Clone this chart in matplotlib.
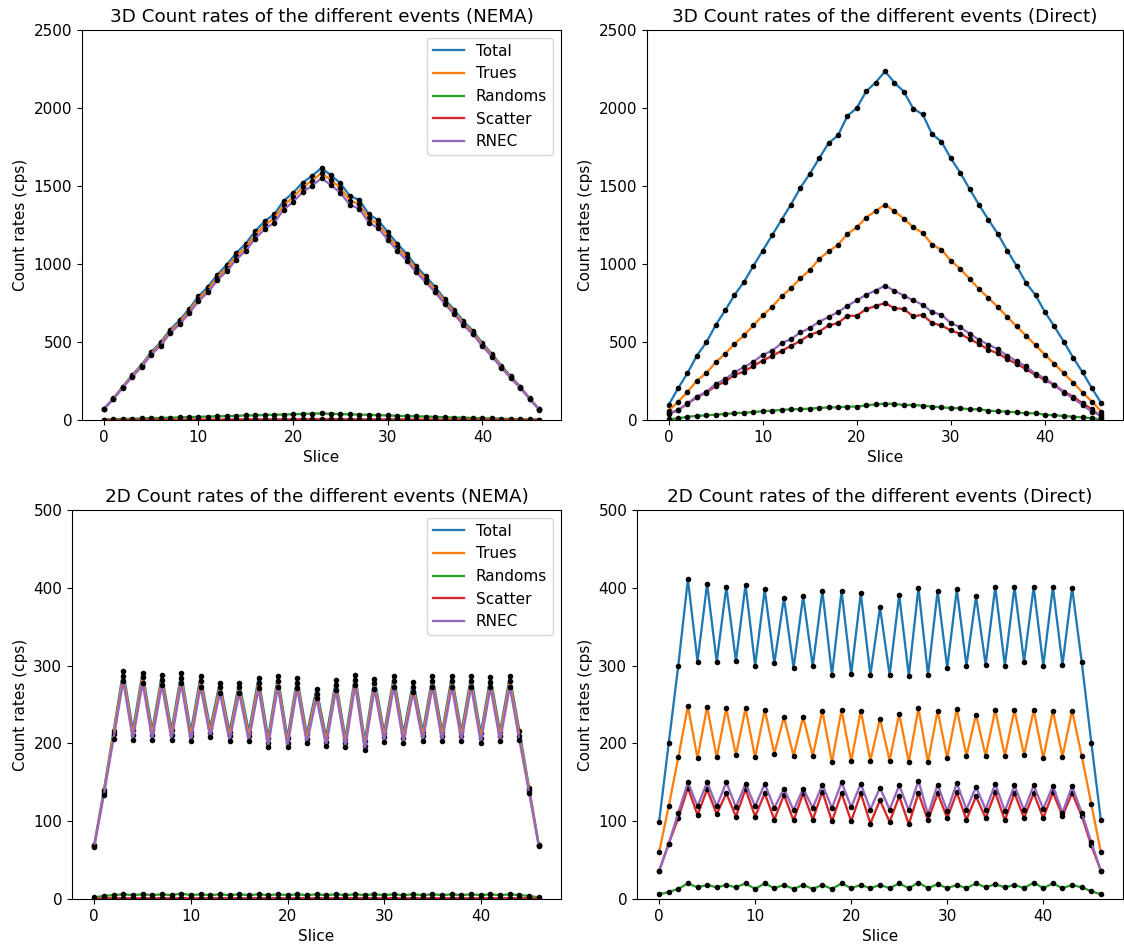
#!/usr/bin/env python3
"""
Plot count rates per slice for the different event types (3D/2D, NEMA vs Direct).
"""

import numpy as np
import matplotlib
matplotlib.use("Agg")
import matplotlib.pyplot as plt

slices = np.arange(47)
LABELS = ["Total", "Trues", "Randoms", "Scatter", "RNEC"]

# 3D NEMA
total_3d_nema = [71, 139, 214, 289, 354, 435, 497, 579, 639, 711, 793, 853, 932, 996, 1071, 1131,
                 1211, 1275, 1318, 1404, 1457, 1521, 1565, 1615, 1569, 1517, 1436, 1410, 1318, 1281,
                 1204, 1131, 1065, 986, 921, 853, 776, 707, 632, 572, 493, 424, 349, 279, 214, 139, 69]
trues_3d_nema = [70, 136, 210, 283, 347, 426, 487, 567, 626, 697, 777, 836, 913, 976, 1050, 1108,
                 1187, 1250, 1292, 1376, 1428, 1491, 1534, 1583, 1538, 1487, 1407, 1382, 1292, 1255,
                 1180, 1108, 1044, 966, 903, 836, 760, 693, 619, 561, 483, 416, 342, 273, 210, 136, 68]
randoms_3d_nema = [3, 5, 7, 8, 10, 12, 13, 15, 17, 18, 20, 22, 24, 25, 27, 29, 30, 32, 34, 35, 37, 39,
                   41, 42, 40, 38, 36, 35, 33, 31, 29, 27, 25, 24, 22, 20, 18, 16, 15, 13, 11, 10, 8,
                   7, 5, 4, 3]
scatter_3d_nema = [1, 1, 1, 2, 2, 2, 2, 3, 3, 3, 3, 3, 3, 4, 4, 4, 4, 4, 4, 4, 4, 5, 5, 5, 5, 5, 4,
                   4, 4, 4, 4, 4, 4, 3, 3, 3, 3, 3, 3, 2, 2, 2, 2, 2, 1, 1, 1]
rnec_3d_nema = [68, 133, 205, 277, 340, 418, 477, 556, 613, 683, 761, 819, 895, 956, 1028, 1086,
                1163, 1224, 1265, 1348, 1399, 1460, 1502, 1550, 1506, 1456, 1379, 1354, 1265, 1230,
                1156, 1086, 1022, 947, 884, 819, 745, 679, 607, 549, 473, 407, 335, 268, 205, 133, 66]

# 3D Direct
total_3d_direct = [96, 203, 300, 413, 497, 608, 702, 801, 884, 987, 1086, 1184, 1283, 1381, 1488,
                   1578, 1677, 1775, 1824, 1949, 2000, 2107, 2163, 2235, 2163, 2105, 1996, 1959, 1833,
                   1784, 1677, 1585, 1480, 1379, 1283, 1193, 1086, 987, 878, 801, 692, 600, 503, 400,
                   306, 203, 107]
trues_3d_direct = [60, 116, 180, 253, 300, 370, 424, 488, 542, 606, 670, 726, 792, 844, 908, 961,
                   1032, 1081, 1122, 1193, 1236, 1298, 1340, 1381, 1338, 1291, 1236, 1199, 1124, 1092,
                   1021, 968, 904, 839, 782, 724, 660, 600, 540, 480, 418, 360, 300, 240, 176, 118, 54]
randoms_3d_direct = [5, 10, 21, 26, 30, 34, 39, 43, 47, 51, 56, 60, 64, 69, 69, 73, 77, 81, 81, 86,
                     86, 94, 100, 105, 103, 96, 96, 92, 86, 81, 77, 75, 69, 69, 60, 56, 54, 49, 43,
                     43, 34, 30, 26, 21, 17, 11, 4]
scatter_3d_direct = [36, 64, 103, 146, 176, 218, 246, 289, 310, 347, 381, 411, 443, 475, 507, 546,
                     567, 606, 621, 668, 668, 711, 730, 750, 717, 711, 664, 675, 621, 606, 574, 553,
                     518, 488, 450, 428, 390, 360, 325, 289, 257, 225, 182, 150, 107, 69, 20]
rnec_3d_direct = [45, 64, 107, 150, 180, 231, 261, 306, 338, 373, 418, 443, 493, 518, 561, 589, 630,
                  660, 692, 732, 767, 803, 830, 861, 829, 797, 767, 739, 692, 675, 621, 595, 553, 514,
                  482, 454, 411, 377, 343, 296, 268, 225, 176, 139, 96, 52, 30]

# 2D NEMA
total_2d_nema = [70, 140, 216, 293, 217, 291, 217, 288, 217, 290, 215, 286, 220, 278, 215, 278, 215,
                 284, 207, 286, 207, 284, 212, 270, 208, 281, 206, 288, 203, 283, 214, 286, 213, 279,
                 215, 286, 215, 286, 215, 286, 213, 285, 215, 286, 216, 143, 70]
trues_2d_nema = [68, 137, 212, 287, 211, 285, 211, 282, 211, 284, 209, 280, 214, 272, 209, 272, 209,
                 278, 201, 280, 201, 278, 206, 264, 202, 275, 200, 282, 197, 277, 208, 280, 207, 273,
                 209, 280, 209, 280, 209, 280, 207, 279, 209, 280, 210, 140, 69]
randoms_2d_nema = [2, 4, 5, 6, 5, 6, 5, 6, 5, 7, 5, 6, 5, 6, 5, 6, 5, 6, 5, 6, 5, 6, 5, 6, 5, 6, 5,
                   6, 5, 6, 5, 6, 5, 6, 5, 6, 5, 6, 5, 6, 5, 6, 5, 6, 5, 4, 2]
scatter_2d_nema = [0, 1, 1, 1, 1, 1, 1, 1, 1, 1, 1, 1, 1, 1, 1, 1, 1, 1, 1, 1, 1, 1, 1, 1, 1, 1, 1,
                   1, 1, 1, 1, 1, 1, 1, 1, 1, 1, 1, 1, 1, 1, 1, 1, 1, 1, 1, 0]
rnec_2d_nema = [67, 134, 206, 280, 205, 278, 205, 275, 205, 277, 203, 273, 208, 265, 203, 265, 203,
                271, 196, 273, 196, 271, 200, 258, 197, 268, 195, 275, 192, 270, 202, 273, 201, 266,
                203, 273, 203, 273, 203, 273, 201, 272, 203, 273, 204, 136, 68]

# 2D Direct
total_2d_direct = [99, 200, 300, 411, 305, 405, 305, 401, 306, 404, 300, 398, 303, 387, 297, 389,
                   299, 396, 288, 396, 289, 393, 288, 375, 288, 391, 287, 400, 288, 396, 297, 398,
                   300, 389, 301, 401, 300, 401, 305, 401, 300, 401, 301, 400, 305, 201, 101]
trues_2d_direct = [60, 119, 182, 248, 181, 247, 182, 245, 185, 245, 182, 243, 187, 234, 184, 234,
                   184, 242, 176, 243, 177, 242, 178, 232, 178, 238, 176, 245, 176, 242, 181, 244,
                   184, 237, 184, 243, 184, 243, 185, 243, 181, 242, 183, 242, 184, 122, 60]
randoms_2d_direct = [6, 9, 13, 20, 15, 18, 15, 18, 15, 20, 13, 20, 14, 18, 13, 18, 13, 18, 13, 20,
                     14, 18, 14, 18, 14, 20, 14, 21, 14, 19, 14, 18, 14, 20, 15, 19, 15, 18, 14, 21,
                     14, 20, 14, 18, 15, 10, 6]
scatter_2d_direct = [36, 71, 104, 143, 108, 141, 109, 136, 106, 141, 106, 136, 102, 134, 101, 136,
                     102, 138, 100, 136, 100, 136, 97, 127, 99, 132, 96, 136, 101, 136, 104, 137,
                     102, 132, 104, 137, 101, 136, 104, 136, 104, 137, 107, 136, 107, 69, 36]
rnec_2d_direct = [36, 71, 111, 150, 119, 150, 119, 150, 118, 148, 119, 148, 117, 142, 114, 142, 117,
                  147, 117, 150, 118, 148, 115, 143, 115, 146, 114, 152, 109, 147, 113, 149, 115, 144,
                  115, 148, 113, 146, 114, 146, 116, 145, 111, 145, 111, 73, 36]

# Axes boxes in figure fractions [left, bottom, width, height]
W, H = 1124, 947
BOXES = {
    (0, 0): [82 / W, 1 - 420 / H, 479 / W, 390 / H],
    (0, 1): [647 / W, 1 - 420 / H, 476 / W, 390 / H],
    (1, 0): [72 / W, 1 - 899 / H, 489 / W, 389 / H],
    (1, 1): [637 / W, 1 - 899 / H, 486 / W, 389 / H],
}


def plot_rates(ax, series, title, ymax, legend=False):
    """Draw one panel: a coloured line per event type with black dots on the points."""
    for label, values in zip(LABELS, series):
        ax.plot(slices, values, label=label, linewidth=1.65)
        ax.plot(slices, values, ".", color="k", markersize=6)
    ax.set_title(title, fontsize=13.2)
    ax.set_xlabel("Slice", fontsize=11)
    ax.set_ylabel("Count rates (cps)", fontsize=11)
    ax.set_ylim(0, ymax)
    ax.tick_params(labelsize=11)
    if legend:
        ax.legend(loc="upper right", fontsize=11)


def main():
    fig, axes = plt.subplots(2, 2, figsize=(11.24, 9.47), dpi=100)

    plot_rates(axes[0, 0],
               [total_3d_nema, trues_3d_nema, randoms_3d_nema, scatter_3d_nema, rnec_3d_nema],
               "3D Count rates of the different events (NEMA)", 2500, legend=True)
    plot_rates(axes[0, 1],
               [total_3d_direct, trues_3d_direct, randoms_3d_direct, scatter_3d_direct, rnec_3d_direct],
               "3D Count rates of the different events (Direct)", 2500)
    plot_rates(axes[1, 0],
               [total_2d_nema, trues_2d_nema, randoms_2d_nema, scatter_2d_nema, rnec_2d_nema],
               "2D Count rates of the different events (NEMA)", 500, legend=True)
    plot_rates(axes[1, 1],
               [total_2d_direct, trues_2d_direct, randoms_2d_direct, scatter_2d_direct, rnec_2d_direct],
               "2D Count rates of the different events (Direct)", 500)

    for key, box in BOXES.items():
        axes[key].set_position(box)

    plt.savefig("out.png", dpi=100)
    plt.close()


if __name__ == "__main__":
    main()
